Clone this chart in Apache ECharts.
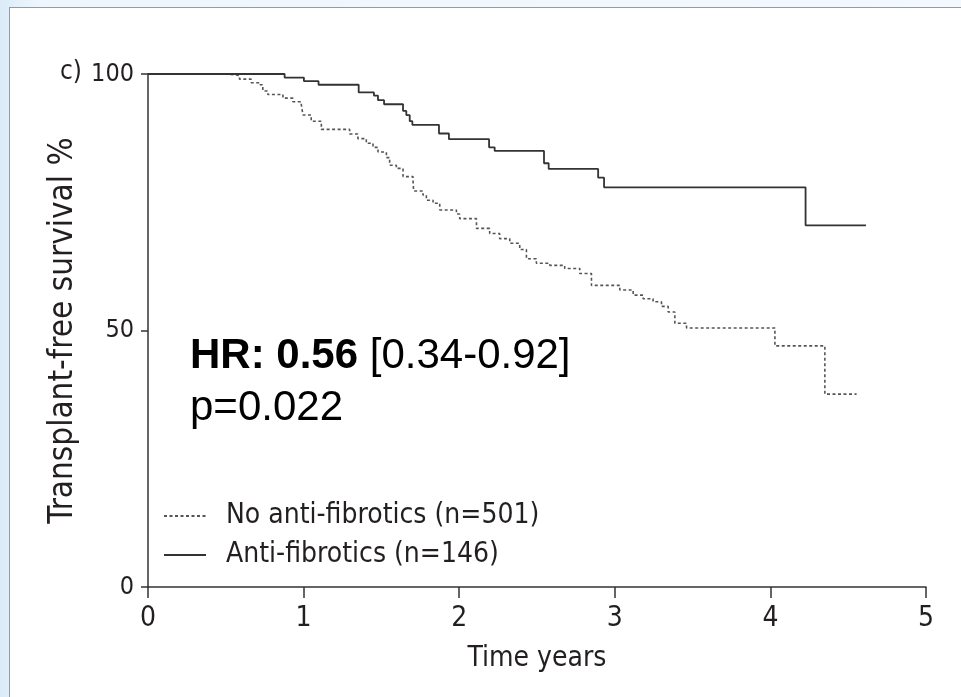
<!DOCTYPE html>
<html>
<head>
<meta charset="utf-8">
<script src="https://cdn.jsdelivr.net/npm/echarts@6/dist/echarts.min.js"></script>
<style>
  html, body { margin: 0; padding: 0; width: 961px; height: 697px; overflow: hidden; }
  body { background: linear-gradient(90deg, #dcebf8 0px, #eef6fd 40px, #f2f8fe 100%); position: relative; }
  #panel { position: absolute; left: 9px; top: 7px; right: 0; bottom: 0; background: #ffffff; border-top: 1px solid #9a9a9a; border-left: 1px solid #9a9a9a; }
  #chart { position: absolute; left: 0; top: 0; width: 961px; height: 697px; }
</style>
</head>
<body>
<div id="panel"></div>
<div id="chart"></div>
<script>
// Kaplan-Meier: Anti-fibrotics (n=146)
const timeAnti = [0, 0.878, 1.002, 1.096, 1.354, 1.452, 1.478, 1.517, 1.639, 1.660, 1.682, 1.699, 1.870, 1.934, 2.192, 2.228, 2.545, 2.575, 2.893, 2.931, 4.226, 4.614];
const survAnti = [100, 99.3, 98.6, 97.9, 96.4, 95.8, 94.9, 94.1, 92.8, 92.0, 90.8, 90.1, 88.4, 87.3, 85.7, 85.0, 82.6, 81.5, 79.8, 77.9, 70.5, 70.5];

// Kaplan-Meier: No anti-fibrotics (n=501)
const timeNo = [0, 0.513, 0.588, 0.663, 0.717, 0.738, 0.770, 0.867, 0.931, 0.985, 0.996, 1.049, 1.114, 1.296, 1.349, 1.403, 1.446, 1.478, 1.532, 1.553, 1.596, 1.639, 1.703, 1.707, 1.767, 1.789, 1.832, 1.875, 1.982, 2.003, 2.111, 2.196, 2.260, 2.325, 2.389, 2.432, 2.496, 2.582, 2.678, 2.775, 2.850, 3.032, 3.118, 3.182, 3.246, 3.300, 3.343, 3.386, 3.461, 4.029, 4.350, 4.554];
const survNo = [100, 99.7, 99.0, 98.3, 97.9, 96.7, 96.0, 95.3, 94.6, 94.1, 92.0, 90.8, 89.2, 88.3, 87.4, 86.5, 85.7, 84.8, 83.7, 82.2, 81.6, 80.0, 79.3, 77.2, 76.4, 75.4, 74.8, 73.5, 72.7, 71.8, 69.9, 68.9, 67.9, 67.0, 65.8, 64.0, 63.1, 62.7, 62.1, 61.1, 58.8, 57.9, 56.9, 56.2, 55.6, 54.7, 53.6, 51.4, 50.5, 47.0, 37.6, 37.6];

const seriesNames = ['No anti-fibrotics (n=501)', 'Anti-fibrotics (n=146)'];
const xTicks = [0, 1, 2, 3, 4, 5];
const yTicks = [0, 50, 100];
const xTitle = 'Time years';
const yTitle = 'Transplant-free survival %';
const panelLabel = 'c)';
const hrBold = 'HR: 0.56';
const hrCI = '[0.34-0.92]';
const pText = 'p=0.022';

const condensed = "'Liberation Sans Narrow', 'DejaVu Sans Condensed', 'Roboto Condensed', 'Arial Narrow', sans-serif";
const textColor = '#231f20';

const chart = echarts.init(document.getElementById('chart'), null, { renderer: 'canvas' });

const zip = (xs, ys) => xs.map((x, i) => [x, ys[i]]);

chart.setOption({
  backgroundColor: 'transparent',
  animation: false,
  grid: { left: 148, right: 35, top: 74, bottom: 110, containLabel: false },
  xAxis: {
    type: 'value', min: xTicks[0], max: xTicks[xTicks.length - 1], interval: 1,
    name: xTitle, nameLocation: 'middle', nameGap: 58,
    nameTextStyle: { fontFamily: condensed, fontSize: 28, color: textColor },
    axisLine: { show: true, onZero: false, lineStyle: { color: '#333', width: 1.5 } },
    axisTick: { show: true, inside: false, length: 11, lineStyle: { color: '#333', width: 1.5 } },
    axisLabel: { fontFamily: condensed, fontSize: 28, color: textColor, margin: 18 },
    splitLine: { show: false }
  },
  yAxis: {
    type: 'value', min: yTicks[0], max: yTicks[yTicks.length - 1], interval: 50,
    name: yTitle, nameLocation: 'middle', nameGap: 30,
    nameTextStyle: { fontFamily: condensed, fontSize: 33, color: textColor },
    axisLine: { show: true, onZero: false, lineStyle: { color: '#333', width: 1.5 } },
    axisTick: { show: true, inside: false, length: 7, lineStyle: { color: '#333', width: 1.5 } },
    axisLabel: { fontFamily: condensed, fontSize: 25, color: textColor, margin: 14 },
    splitLine: { show: false }
  },
  legend: {
    data: seriesNames,
    orient: 'vertical',
    left: 158, top: 496,
    itemWidth: 42, itemHeight: 14, itemGap: 9,
    itemStyle: { opacity: 0 },
    textStyle: { fontFamily: condensed, fontSize: 28, color: textColor, lineHeight: 30, padding: [0, 0, 0, 15] },
    selectedMode: false
  },
  series: [
    {
      name: seriesNames[0], type: 'line', step: 'end', showSymbol: false, symbol: 'none',
      data: zip(timeNo, survNo),
      lineStyle: { color: '#555', width: 1.6, type: [3, 2.5] },
      itemStyle: { color: '#555' },
      z: 2
    },
    {
      name: seriesNames[1], type: 'line', step: 'end', showSymbol: false, symbol: 'none',
      data: zip(timeAnti, survAnti),
      lineStyle: { color: '#333', width: 1.8, type: 'solid' },
      itemStyle: { color: '#333' },
      z: 3
    }
  ],
  graphic: [
    {
      type: 'text', left: 60, top: 59,
      style: { text: panelLabel, fontFamily: condensed, fontSize: 26, fill: textColor }
    },
    {
      type: 'text', left: 190, top: 335,
      style: {
        text: '{b|' + hrBold + '}{n| ' + hrCI + '}\n{n|' + pText + '}',
        rich: {
          b: { fontFamily: "'Liberation Sans', Arial, sans-serif", fontWeight: 'bold', fontSize: 42, fill: '#000', lineHeight: 52 },
          n: { fontFamily: "'Liberation Sans', Arial, sans-serif", fontSize: 42, fill: '#000', lineHeight: 52 }
        }
      }
    }
  ]
});
</script>
</body>
</html>
